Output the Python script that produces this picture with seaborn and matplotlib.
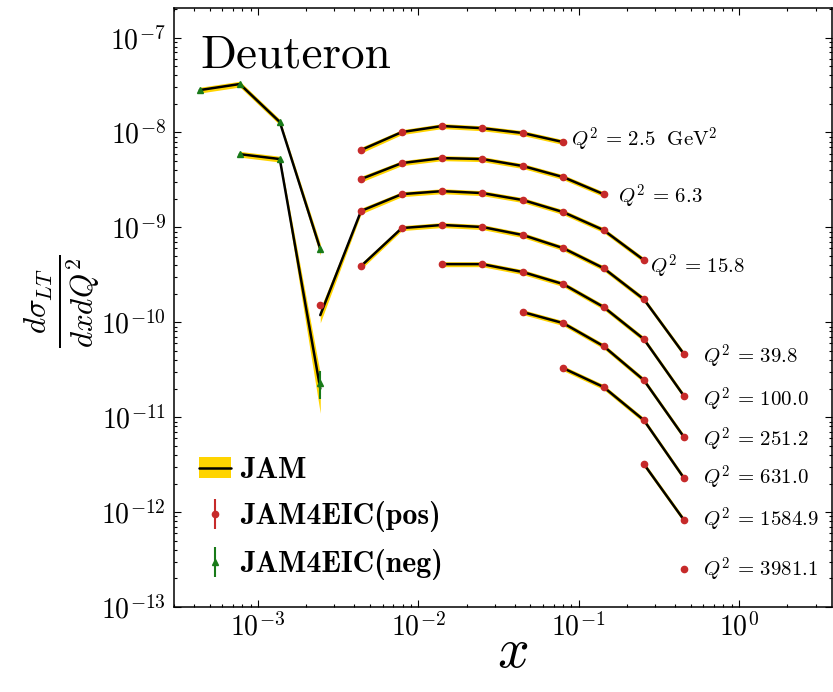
import numpy as np
import pandas as pd
import matplotlib
matplotlib.use("Agg")
import matplotlib.pyplot as plt
from matplotlib.patches import Patch
from matplotlib.lines import Line2D
from matplotlib.ticker import (FixedLocator, LogLocator, NullFormatter,
                               LogFormatterSciNotation)
from matplotlib.font_manager import FontProperties
import seaborn as sns

# x bins shared by all Q^2 curves
x_bins = [4.35e-4, 7.72e-4, 1.37e-3, 2.45e-3, 4.4e-3, 7.9e-3, 1.41e-2,
          2.5e-2, 4.5e-2, 8.0e-2, 0.143, 0.255, 0.454]

q2_values = [2.5, 6.3, 15.8, 39.8, 100.0, 251.2, 631.0, 1584.9, 3981.1]
q2_labels = [r"$Q^2\,=\,2.5\ \ \mathrm{GeV}^2$", r"$Q^2\,=\,6.3$", r"$Q^2\,=\,15.8$",
             r"$Q^2\,=\,39.8$", r"$Q^2\,=\,100.0$", r"$Q^2\,=\,251.2$",
             r"$Q^2\,=\,631.0$", r"$Q^2\,=\,1584.9$", r"$Q^2\,=\,3981.1$"]
# index of the first x bin populated for each Q^2
first_bin = [0, 1, 3, 4, 6, 8, 9, 11, 12]

# decade ticks
x_ticks = [1e-3, 1e-2, 1e-1, 1e0]
y_ticks = [1e-13, 1e-12, 1e-11, 1e-10, 1e-9, 1e-8, 1e-7]

# signed pseudo-data (negative values are drawn as |value|)
sigma_data = [
    [-2.80e-8, -3.24e-8, -1.29e-8, -5.90e-10, 6.53e-9, 1.01e-8, 1.17e-8, 1.11e-8, 9.86e-9, 7.93e-9],
    [-5.91e-9, -5.25e-9, -2.29e-11, 3.23e-9, 4.76e-9, 5.37e-9, 5.25e-9, 4.43e-9, 3.39e-9, 2.24e-9],
    [1.52e-10, 1.49e-9, 2.24e-9, 2.41e-9, 2.30e-9, 1.94e-9, 1.45e-9, 9.37e-10, 4.53e-10],
    [3.91e-10, 9.84e-10, 1.06e-9, 1.01e-9, 8.30e-10, 6.05e-10, 3.72e-10, 1.75e-10, 4.62e-11],
    [4.10e-10, 4.10e-10, 3.38e-10, 2.53e-10, 1.45e-10, 6.65e-11, 1.67e-11],
    [1.28e-10, 9.81e-11, 5.61e-11, 2.46e-11, 6.17e-12],
    [3.29e-11, 2.08e-11, 9.31e-12, 2.28e-12],
    [3.21e-12, 8.24e-13],
    [2.51e-13],
]
sigma_err = [
    [0.04e-8, 0.05e-8, 0.02e-8, 0.5e-10, 0.8e-10, 1.0e-10, 1.1e-10, 1.1e-10, 1.0e-10, 0.8e-10],
    [0.6e-10, 0.6e-10, 0.75e-11, 0.4e-10, 0.5e-10, 0.5e-10, 0.5e-10, 0.4e-10, 0.3e-10, 0.2e-10],
    [0.6e-11, 0.2e-10, 0.2e-10, 0.2e-10, 0.2e-10, 0.2e-10, 0.1e-10, 0.1e-10, 0.5e-11],
    [0.4e-11, 0.1e-10, 0.1e-10, 0.1e-10, 0.8e-11, 0.6e-11, 0.4e-11, 0.2e-11, 0.5e-12],
    [0.4e-11, 0.4e-11, 0.3e-11, 0.3e-11, 0.2e-11, 0.7e-12, 0.2e-12],
    [0.1e-11, 0.1e-11, 0.6e-12, 0.3e-12, 0.7e-13],
    [0.3e-12, 0.2e-12, 0.1e-12, 0.3e-13],
    [0.3e-13, 0.1e-13],
    [0.3e-14],
]

# JAM central values and relative half-width of the uncertainty band
jam_sigma = [
    [-2.80e-8, -3.24e-8, -1.29e-8, -5.90e-10, 6.53e-9, 1.01e-8, 1.17e-8, 1.11e-8, 9.86e-9, 7.93e-9],
    [-5.91e-9, -5.25e-9, -2.00e-11, 3.23e-9, 4.76e-9, 5.37e-9, 5.25e-9, 4.43e-9, 3.39e-9, 2.24e-9],
    [1.19e-10, 1.49e-9, 2.24e-9, 2.41e-9, 2.30e-9, 1.94e-9, 1.45e-9, 9.37e-10, 4.53e-10],
    [3.91e-10, 9.84e-10, 1.06e-9, 1.01e-9, 8.30e-10, 6.05e-10, 3.72e-10, 1.75e-10, 4.62e-11],
    [4.10e-10, 4.10e-10, 3.38e-10, 2.53e-10, 1.45e-10, 6.65e-11, 1.67e-11],
    [1.28e-10, 9.81e-11, 5.61e-11, 2.46e-11, 6.17e-12],
    [3.29e-11, 2.08e-11, 9.31e-12, 2.28e-12],
    [3.21e-12, 8.24e-13],
    [2.51e-13],
]
jam_band = [
    [0.07, 0.07, 0.07, 0.14, 0.07, 0.06, 0.06, 0.06, 0.06, 0.06],
    [0.07, 0.07, 0.45, 0.07, 0.06, 0.06, 0.06, 0.06, 0.06, 0.06],
    [0.17, 0.07, 0.06, 0.06, 0.06, 0.06, 0.06, 0.06, 0.06],
    [0.07, 0.06, 0.06, 0.06, 0.06, 0.06, 0.06, 0.06, 0.06],
    [0.06, 0.06, 0.06, 0.06, 0.06, 0.06, 0.06],
    [0.06, 0.06, 0.06, 0.06, 0.06],
    [0.06, 0.06, 0.06, 0.06],
    [0.06, 0.06],
    [0.06],
]

# label offsets (pixels) from the last point of each curve
label_dx = [8, 14, 6, 19, 19, 19, 19, 19, 19]
label_dy = [2, -3, -7, -3, -4, -3, 0, 0, -1]

sns.set_style("ticks")
plt.rcParams["font.family"] = ["serif"]
plt.rcParams["font.serif"] = ["cmr10", "DejaVu Serif"]
plt.rcParams["mathtext.fontset"] = "cm"
plt.rcParams["axes.formatter.use_mathtext"] = True
plt.rcParams["axes.unicode_minus"] = False
for key in ["text.color", "axes.labelcolor", "axes.edgecolor",
            "xtick.color", "ytick.color"]:
    plt.rcParams[key] = "black"

fig = plt.figure(figsize=(8.33, 6.92), dpi=100)
ax = fig.add_axes([174 / 833, 85 / 692, 658 / 833, 599 / 692])
ax.set_xscale("log")
ax.set_yscale("log")

red = "#c62a2a"
green = "#187a18"
band_color = "#ffd400"

rows = []
seg_id = 0
pos_x, pos_y, pos_e = [], [], []
neg_x, neg_y, neg_e = [], [], []
for k in range(len(q2_values)):
    xs = x_bins[first_bin[k]:first_bin[k] + len(sigma_data[k])]
    central = np.array(jam_sigma[k])
    band = np.array(jam_band[k])
    signs = np.sign(central)
    # split the theory curve wherever it changes sign
    start = 0
    for i in range(1, len(xs) + 1):
        if i == len(xs) or signs[i] != signs[start]:
            sx = np.array(xs[start:i])
            sy = np.abs(central[start:i])
            sb = band[start:i]
            ax.fill_between(sx, sy * (1 - sb), sy * (1 + sb), color=band_color,
                            lw=0, zorder=1)
            for xv, yv in zip(sx, sy):
                rows.append({"x": xv, "y": yv, "seg": seg_id})
            seg_id += 1
            start = i
    for xv, yv, ev in zip(xs, sigma_data[k], sigma_err[k]):
        if yv > 0:
            pos_x.append(xv); pos_y.append(yv); pos_e.append(ev)
        else:
            neg_x.append(xv); neg_y.append(-yv); neg_e.append(ev)

lines_df = pd.DataFrame(rows)
sns.lineplot(data=lines_df, x="x", y="y", units="seg", estimator=None,
             sort=False, color="black", lw=1.8, ax=ax, legend=False, zorder=2)

eb_pos = ax.errorbar(pos_x, pos_y, yerr=pos_e, fmt="o", color=red, ms=4.5,
                     elinewidth=1.5, capsize=0, zorder=3)
eb_neg = ax.errorbar(neg_x, neg_y, yerr=neg_e, fmt="^", color=green, ms=4.5,
                     elinewidth=1.5, capsize=0, zorder=3)

for k in range(len(q2_values)):
    last_x = x_bins[first_bin[k] + len(sigma_data[k]) - 1]
    last_y = abs(sigma_data[k][-1])
    ax.annotate(q2_labels[k], xy=(last_x, last_y),
                xytext=(label_dx[k], label_dy[k]), textcoords="offset pixels",
                fontsize=15, ha="left", va="center")

ax.set_xlim(3.0e-4, 3.8)
ax.set_ylim(1e-13, 2.05e-7)

ax.xaxis.set_major_locator(FixedLocator(x_ticks))
ax.yaxis.set_major_locator(FixedLocator(y_ticks))
ax.xaxis.set_major_formatter(LogFormatterSciNotation())
ax.yaxis.set_major_formatter(LogFormatterSciNotation())
ax.xaxis.set_minor_locator(LogLocator(base=10, subs=np.arange(2, 10), numticks=100))
ax.yaxis.set_minor_locator(LogLocator(base=10, subs=np.arange(2, 10), numticks=100))
ax.xaxis.set_minor_formatter(NullFormatter())
ax.yaxis.set_minor_formatter(NullFormatter())
ax.tick_params(which="both", direction="in", top=True, right=True, width=0.8)
ax.tick_params(which="major", length=5, labelsize=20)
ax.tick_params(axis="y", which="major", pad=6)
ax.tick_params(axis="x", which="major", pad=4)
ax.tick_params(which="minor", length=2.5)
for sp in ax.spines.values():
    sp.set_linewidth(1.1)

ax.set_xlabel(r"$x$", fontsize=40, va="baseline")
ax.xaxis.set_label_coords(0.515, -0.100)
ax.set_ylabel(r"$\frac{d\sigma_{LT}}{dxdQ^2}$", fontsize=32, va="center")
ax.yaxis.set_label_coords(-0.169, 0.51)

ax.text(0.04, 0.90, "Deuteron", transform=ax.transAxes, fontsize=34,
        va="baseline", ha="left")

jam_handle = (Patch(facecolor=band_color, edgecolor="none"),
              Line2D([], [], color="black", lw=1.8))
ax.legend([jam_handle, eb_pos, eb_neg], ["JAM", "JAM4EIC(pos)", "JAM4EIC(neg)"],
          loc="lower left", bbox_to_anchor=(0.038, 0.045), frameon=False,
          prop=FontProperties(family="cmb10", size=21.5), handlelength=1.08,
          handletextpad=0.3, labelspacing=0.57, borderpad=0, borderaxespad=0)

fig.savefig("out.png", dpi=100)
